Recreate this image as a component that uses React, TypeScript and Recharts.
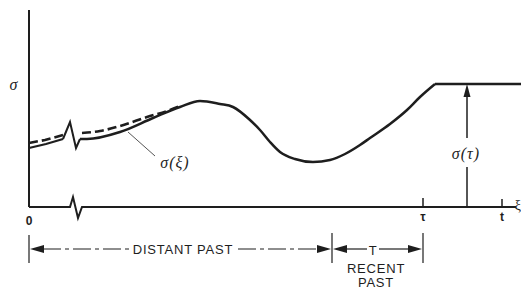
import React from "react";
import { ComposedChart, Line, Scatter, XAxis, YAxis, ReferenceLine } from "recharts";

// units: x = elapsed time ξ (0 at origin), y = stress σ
const solidHead = [{ x: 0, y: 59 }, { x: 17, y: 63 }, { x: 34, y: 68 }];
const breakWiggle = [{ x: 34, y: 68 }, { x: 41, y: 85 }, { x: 47, y: 59 }, { x: 51, y: 68 }];
const solidBody = [
  { x: 51, y: 68 }, { x: 58, y: 68 }, { x: 91, y: 75 }, { x: 124, y: 89 }, { x: 151, y: 100 },
  { x: 171, y: 106 }, { x: 191, y: 103 }, { x: 204, y: 100 }, { x: 221, y: 87 }, { x: 231, y: 77 },
  { x: 241, y: 65 }, { x: 251, y: 55 }, { x: 266, y: 48 }, { x: 284, y: 45 }, { x: 301, y: 47 },
  { x: 316, y: 53 }, { x: 331, y: 62 }, { x: 341, y: 69 }, { x: 361, y: 83 }, { x: 378, y: 97 },
  { x: 391, y: 110 }, { x: 406, y: 123 },
];
const plateau = [{ x: 406, y: 123 }, { x: 492, y: 123 }];
const dashedHead = [{ x: 0, y: 64 }, { x: 16, y: 67 }, { x: 34, y: 72 }];
const dashedBody = [
  { x: 53, y: 74 }, { x: 71, y: 76 }, { x: 91, y: 81 }, { x: 118, y: 90 }, { x: 141, y: 97 }, { x: 151, y: 101 },
];
const xAxisLine = [{ x: 0, y: 0 }, { x: 41, y: 0 }, { x: 44, y: 10 }, { x: 49, y: -11 }, { x: 53, y: 0 }, { x: 487, y: 0 }];
const yAxisLine = [{ x: 0, y: 0 }, { x: 0, y: 197 }];

const TAU = 394;
const T_NOW = 473;
const DIM_Y = -42;
const RECENT_START = 303;

const leftArrowTips = [{ x: 1, y: DIM_Y }, { x: 304, y: DIM_Y }];
const rightArrowTips = [{ x: 302, y: DIM_Y }, { x: 393, y: DIM_Y }];
const upArrowTips = [{ x: 438, y: 123 }];

const mathLabels = [
  { x: -15, y: 123, label: "σ" },
  { x: 146, y: 45, label: "σ(ξ)" },
  { x: 437, y: 54, label: "σ(τ)" },
];
const tickLabels = [
  { x: 0, y: -14, label: "0" },
  { x: TAU, y: -10, label: "τ" },
  { x: T_NOW, y: -10, label: "t" },
];
const edgeLabels = [{ x: 492, y: 2, label: "ξ" }];
const dimLabels = [
  { x: 154, y: -42, label: "DISTANT PAST" },
  { x: 344, y: -43, label: "T" },
  { x: 347, y: -61, label: "RECENT" },
  { x: 347, y: -75, label: "PAST" },
];

const INK = "#1e1e1e";

const arrowShape = (dir: "left" | "right" | "up") => (p: any) => {
  const { cx, cy } = p;
  const L = 14;
  const H = 4;
  let pts = "";
  if (dir === "left") pts = `${cx},${cy} ${cx + L},${cy - H} ${cx + L},${cy + H}`;
  if (dir === "right") pts = `${cx},${cy} ${cx - L},${cy - H} ${cx - L},${cy + H}`;
  if (dir === "up") pts = `${cx},${cy} ${cx - 3.5},${cy + 13} ${cx + 3.5},${cy + 13}`;
  return <polygon points={pts} fill={INK} />;
};

const textShape = (style: React.SVGProps<SVGTextElement>) => (p: any) => (
  <text x={p.cx} y={p.cy} dominantBaseline="central" fill={INK} textAnchor="middle" {...style}>
    {p.payload.label}
  </text>
);

const lineProps = { dataKey: "y", dot: false, activeDot: false, isAnimationActive: false, type: "linear" as const, legendType: "none" as const };

export default function App() {
  return (
    <div style={{ position: "absolute", left: 0, top: 0, background: "#fff" }}>
      <ComposedChart width={521} height={288} margin={{ top: 0, right: 0, bottom: 0, left: 0 }}>
        <XAxis type="number" dataKey="x" domain={[-29, 492]} hide allowDataOverflow />
        <YAxis type="number" dataKey="y" domain={[-81, 207]} hide allowDataOverflow />

        <Line {...lineProps} data={yAxisLine} stroke={INK} strokeWidth={2} />
        <Line {...lineProps} data={xAxisLine} stroke={INK} strokeWidth={2} />

        <Line {...lineProps} data={dashedHead} stroke={INK} strokeWidth={2.6} strokeDasharray="9 4" />
        <Line {...lineProps} data={dashedBody} type="monotone" stroke={INK} strokeWidth={2.6} strokeDasharray="9 4" />
        <Line {...lineProps} data={solidHead} stroke={INK} strokeWidth={2.3} />
        <Line {...lineProps} data={breakWiggle} stroke={INK} strokeWidth={2} />
        <Line {...lineProps} data={solidBody} type="monotone" stroke={INK} strokeWidth={2.5} />
        <Line {...lineProps} data={plateau} stroke={INK} strokeWidth={2.5} />

        {/* ticks on time axis */}
        <ReferenceLine segment={[{ x: TAU, y: 0 }, { x: TAU, y: 9 }]} stroke={INK} strokeWidth={1.5} ifOverflow="visible" />
        <ReferenceLine segment={[{ x: T_NOW, y: 0 }, { x: T_NOW, y: 8 }]} stroke={INK} strokeWidth={1.5} ifOverflow="visible" />

        {/* σ(τ) arrow */}
        <ReferenceLine segment={[{ x: 438, y: 0 }, { x: 438, y: 40 }]} stroke={INK} strokeWidth={1.5} ifOverflow="visible" />
        <ReferenceLine segment={[{ x: 438, y: 69 }, { x: 438, y: 112 }]} stroke={INK} strokeWidth={1.5} ifOverflow="visible" />

        {/* leader for σ(ξ) */}
        <ReferenceLine segment={[{ x: 99, y: 75 }, { x: 126, y: 51 }]} stroke="#555" strokeWidth={1} ifOverflow="visible" />

        {/* dimension lines */}
        <ReferenceLine segment={[{ x: 0, y: -28 }, { x: 0, y: -56 }]} stroke={INK} strokeWidth={1.2} ifOverflow="visible" />
        <ReferenceLine segment={[{ x: RECENT_START, y: -26 }, { x: RECENT_START, y: -56 }]} stroke={INK} strokeWidth={1.2} ifOverflow="visible" />
        <ReferenceLine segment={[{ x: TAU, y: -26 }, { x: TAU, y: -56 }]} stroke={INK} strokeWidth={1.2} ifOverflow="visible" />
        <ReferenceLine segment={[{ x: 14, y: DIM_Y }, { x: 100, y: DIM_Y }]} stroke={INK} strokeWidth={1.2} strokeDasharray="18 4 4 4" ifOverflow="visible" />
        <ReferenceLine segment={[{ x: 209, y: DIM_Y }, { x: 289, y: DIM_Y }]} stroke={INK} strokeWidth={1.2} strokeDasharray="18 4 4 4" ifOverflow="visible" />
        <ReferenceLine segment={[{ x: 317, y: DIM_Y }, { x: 338, y: DIM_Y }]} stroke={INK} strokeWidth={1.2} ifOverflow="visible" />
        <ReferenceLine segment={[{ x: 350, y: DIM_Y }, { x: 381, y: DIM_Y }]} stroke={INK} strokeWidth={1.2} ifOverflow="visible" />

        <Scatter data={leftArrowTips} dataKey="y" isAnimationActive={false} shape={arrowShape("left")} />
        <Scatter data={rightArrowTips} dataKey="y" isAnimationActive={false} shape={arrowShape("right")} />
        <Scatter data={upArrowTips} dataKey="y" isAnimationActive={false} shape={arrowShape("up")} />

        <Scatter data={mathLabels} dataKey="y" isAnimationActive={false}
          shape={textShape({ fontFamily: "Liberation Serif", fontStyle: "italic", fontSize: 16, letterSpacing: 1 })} />
        <Scatter data={tickLabels} dataKey="y" isAnimationActive={false}
          shape={textShape({ fontFamily: "Liberation Sans", fontWeight: 700, fontSize: 12 })} />
        <Scatter data={edgeLabels} dataKey="y" isAnimationActive={false}
          shape={textShape({ fontFamily: "Liberation Serif", fontSize: 14, textAnchor: "end" })} />
        <Scatter data={dimLabels} dataKey="y" isAnimationActive={false}
          shape={textShape({ fontFamily: "Liberation Sans", fontSize: 13, letterSpacing: 0.8 })} />
      </ComposedChart>
    </div>
  );
}
